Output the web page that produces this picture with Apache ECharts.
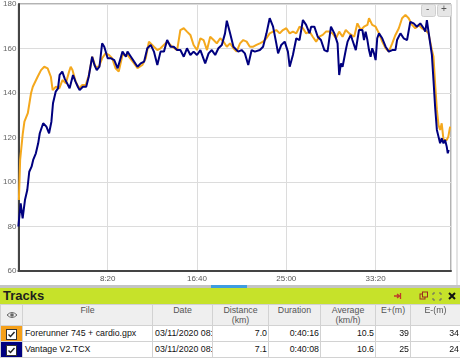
<!DOCTYPE html>
<html><head><meta charset="utf-8">
<script src="https://cdn.jsdelivr.net/npm/echarts/dist/echarts.min.js"></script>
<style>
html,body{margin:0;padding:0;width:460px;height:359px;overflow:hidden;background:#fff;font-family:"Liberation Sans",Arial,sans-serif;}
#chart{position:absolute;left:0;top:0;width:460px;height:285px;}
#vbar{position:absolute;left:456px;top:0;width:2px;height:285px;background:#e4e4e4;}
#hbar{position:absolute;left:0;top:285px;width:460px;height:3px;background:#c4c4c4;}
#hbar i{position:absolute;left:211px;top:0;width:36px;height:3px;background:#3f9de0;}
#head{position:absolute;left:0;top:288px;width:460px;height:16px;background:#c6e22a;}
#head b{position:absolute;left:3px;top:0;font-size:13px;line-height:16px;color:#1e1e1e;}
#head svg{position:absolute;left:0;top:0;}
table{position:absolute;left:0;top:304px;border-collapse:collapse;table-layout:fixed;width:460px;}
td,th{border:1px solid #d2d2d2;padding:0 2px;font-size:8.8px;overflow:hidden;white-space:nowrap;}
th{font-weight:normal;color:#555;background:#efefef;height:20px;vertical-align:top;line-height:10px;text-align:center;padding-top:0;}
td{height:15px;line-height:15px;color:#111;text-align:right;padding:0 1px 0 2px;}
td.l{text-align:left;}
td.c{padding:0;text-align:center;}
td.c svg{display:block;margin:2px auto 0 auto;}
</style>
</head><body>
<div id="chart"></div>
<div id="vbar"></div>
<div id="hbar"><i></i></div>
<div id="head"><b>Tracks</b>
<svg width="460" height="16">
 <path d="M394 8 H399 M397 6 L399.5 8 L397 10 M400.5 5 V11" stroke="#c0392b" stroke-width="1.3" fill="none"/>
 <rect x="420" y="6" width="5" height="5" fill="none" stroke="#9b2d20" stroke-width="1"/>
 <rect x="422.5" y="4" width="5" height="5" fill="#c6e22a" stroke="#9b2d20" stroke-width="1"/>
 <path d="M433 5 h2 M433 5 v2 M441 5 h-2 M441 5 v2 M433 12 h2 M433 12 v-2 M441 12 h-2 M441 12 v-2" stroke="#666" stroke-width="1" fill="none"/>
 <path d="M449 5 L455 11 M455 5 L449 11" stroke="#111" stroke-width="2" fill="none"/>
</svg></div>
<table>
<colgroup><col style="width:22px"><col style="width:130px"><col style="width:60px"><col style="width:56px"><col style="width:52px"><col style="width:55px"><col style="width:35px"><col style="width:50px"></colgroup>
<tr><th style="vertical-align:middle"><svg width="12" height="8" style="display:block;margin:auto"><path d="M1 4 Q6 -1 11 4 Q6 9 1 4 Z" fill="none" stroke="#666" stroke-width="1"/><circle cx="6" cy="4" r="1.8" fill="#666"/></svg></th><th>File</th><th>Date</th><th>Distance<br>(km)</th><th>Duration</th><th>Average<br>(km/h)</th><th>E+(m)</th><th>E-(m)</th></tr>
<tr><td class="c" style="background:#f5a01a"><svg width="11" height="11"><rect x="0.5" y="0.5" width="10" height="10" fill="#fff" stroke="#333"/><path d="M2.5 5.5 L4.5 7.5 L8.5 3" stroke="#222" stroke-width="1.4" fill="none"/></svg></td><td class="l">Forerunner 745 + cardio.gpx</td><td class="l">03/11/2020 08:43</td><td>7.0</td><td>0:40:16</td><td>10.5</td><td>39</td><td>34</td></tr>
<tr><td class="c" style="background:#000080"><svg width="11" height="11"><rect x="0.5" y="0.5" width="10" height="10" fill="#fff" stroke="#333"/><path d="M2.5 5.5 L4.5 7.5 L8.5 3" stroke="#222" stroke-width="1.4" fill="none"/></svg></td><td class="l">Vantage V2.TCX</td><td class="l">03/11/2020 08:43</td><td>7.1</td><td>0:40:08</td><td>10.6</td><td>25</td><td>24</td></tr>
</table>
<script>
// Forerunner 745 + cardio.gpx : elapsed seconds / heart rate
var timeA = [3,10,25,34,53,71,81,90,108,127,145,154,164,182,192,210,229,247,266,284,293,303,321,340,358,377,395,414,432,451,469,488,507,525,544,562,
583,611,648,667,694,713,731,759,778,796,833,861,889,907,926,944,963,981,1000,1019,1037,1056,1074,1093,1111,1130,1148,1167,
1185,1204,1222,1241,1259,1278,1296,1315,1333,1352,1370,1389,1407,1426,1444,1463,1481,1500,1519,1537,1556,1574,1593,1611,1630,1648,1667,1685,1704,1722,1741,1759,1778,
1796,1815,1833,1852,1880,1898,1917,1935,1954,1963,1981,2000,2019,2037,2056,2074,2093,2111,2130,2148,2167,2185,2204,2222,2241,2259,2278,2296,2315,2324,2333,2343,2352,2361,2370,2380,2398,2407,2417];
var hrA = [91.9,109.9,121.9,127.1,130.9,139.9,142.8,143.6,147.3,150.3,151.8,152.6,151.1,147.3,141.3,142.8,142.1,145.8,144.4,149.6,151.8,150.3,145.1,142.1,143.6,143.6,148.1,156.3,151.8,151.8,155.6,157.8,157.1,155.6,151.1,149.6,
157.1,157.1,153.3,151.1,152.6,155.6,163.1,160.8,159.3,160.1,163.1,160.8,159.3,168.3,169.1,167.6,166.1,161.6,159.3,164.6,163.8,159.3,165.3,163.8,162.3,164.6,163.1,160.8,
162.3,160.1,158.6,162.3,163.8,163.1,160.8,160.8,161.6,162.3,163.1,164.6,166.8,167.6,168.3,166.8,168.3,169.1,166.8,167.6,166.8,169.8,169.1,166.8,167.6,165.3,163.1,165.3,166.1,167.6,167.6,166.8,164.6,
167.6,165.3,168.3,166.8,165.3,171.3,168.3,169.8,170.6,173.6,170.6,169.8,166.8,163.1,160.1,158.6,162.3,166.1,169.1,173.6,175.1,173.6,170.6,169.1,170.6,169.1,168.3,166.8,159.3,156.3,144.4,132.4,125.6,123.4,126.4,118.9,118.9,120.4,124.9];
// Vantage V2.TCX
var timeB = [0,13,24,37,50,61,74,83,98,111,120,139,148,157,172,185,194,209,222,231,246,259,268,287,306,320,333,343,361,380,394,413,426,439,454,469,481,500,519,537,
556,583,602,611,630,648,667,685,704,722,741,759,778,796,815,833,852,870,889,907,926,944,963,981,1000,1019,1046,1065,1083,1102,1120,1139,1157,1167,
1185,1204,1231,1250,1268,1287,1306,1324,1352,1370,1389,1407,1426,1444,1454,1472,1491,1509,1519,1537,1556,1574,1593,1611,1630,1639,1657,1676,1694,1713,1731,1750,1769,1787,
1796,1806,1815,1833,1843,1861,1870,1889,1898,1907,1926,1935,1944,1954,1963,1972,1981,1991,2000,2009,2019,2037,2056,2074,2093,2111,2120,2139,2157,2176,2194,2213,2231,2250,2269,2278,2287,2296,2315,2324,2333,2343,2352,2361,2370,2380,2389,2398,2404,2409];
var hrB = [80,90.4,83.7,91.9,96.4,104.6,106.9,109.9,112.9,117.4,121.9,126.4,127.1,124.9,121.9,127.1,135.4,140.6,142.1,148.1,149.6,146.6,145.1,142.1,148.1,145.1,142.8,141.3,142.8,142.8,147.3,156.3,152.6,150.3,151.8,162.3,160.8,155.6,155.6,154.8,
151.1,158.6,156.3,158.6,156.3,154.1,151.8,153.3,154.1,160.1,161.6,158.6,152.6,158.6,158.6,163.8,160.8,160.8,159.3,159.3,156.3,160.1,157.1,158.6,157.1,159.3,153.3,157.8,159.3,157.1,160.1,161.6,166.8,172.5,
167,160.8,158.6,159.3,157.8,152.6,159.3,158.6,159.3,160.8,166.8,173.6,169.8,162.3,157.8,161.6,163.1,158.6,151.8,157.1,164.6,163.8,172.8,170.6,166.8,169.8,169.8,165.3,163.8,159.3,158.6,169.8,166.8,162.3,
148.1,153.3,151.8,159.3,163.1,166.1,163.8,159.3,158.6,168.3,168.3,163.8,167.6,163.8,159.3,156.3,160.1,157.8,154.8,164.6,166.8,164.6,160.8,158.6,159.3,159.3,163.8,166.8,164.6,163.8,172,171.3,169.8,171.3,169.1,167.6,172.8,167.6,157.1,145.8,133.8,123.4,120.4,117.4,119.6,117.4,118.9,115.9,112.9,114.4];
var yTicks = [60, 80, 100, 120, 140, 160, 180];
var xTickStep = 500;

function pairs(t, v) { return t.map(function (x, i) { return [x, v[i]]; }); }
function mmss(s) { var m = Math.floor(s / 60), r = Math.round(s % 60); return m + ':' + (r < 10 ? '0' : '') + r; }

var chart = echarts.init(document.getElementById('chart'), null, { renderer: 'canvas' });
chart.setOption({
  animation: false,
  grid: { left: 15, right: 9, top: 4, bottom: 14, show: true, borderColor: '#666', borderWidth: 1 },
  xAxis: {
    type: 'value', min: 0, max: 2422, interval: xTickStep,
    axisLine: { show: true, lineStyle: { color: '#444', width: 2 } },
    axisTick: { show: false },
    splitLine: { show: true, lineStyle: { color: '#dcdcdc', width: 1 } },
    axisLabel: { formatter: mmss, showMinLabel: false, showMaxLabel: false, fontSize: 8, color: '#555', margin: 4, fontFamily: 'Liberation Sans' }
  },
  yAxis: {
    type: 'value', min: yTicks[0], max: yTicks[yTicks.length - 1], interval: 20,
    axisLine: { show: true, lineStyle: { color: '#444', width: 2 } },
    axisTick: { show: false },
    splitLine: { show: true, lineStyle: { color: '#dcdcdc', width: 1 } },
    axisLabel: { fontSize: 8, color: '#666', margin: 2, fontFamily: 'Liberation Sans' }
  },
  series: [
    { name: 'Forerunner 745 + cardio.gpx', type: 'line', data: pairs(timeA, hrA), showSymbol: false, lineStyle: { color: '#f4a81d', width: 2 }, itemStyle: { color: '#f4a81d' } },
    { name: 'Vantage V2.TCX', type: 'line', data: pairs(timeB, hrB), showSymbol: false, lineStyle: { color: '#00007f', width: 2 }, itemStyle: { color: '#00007f' } }
  ],
  graphic: [
    { type: 'rect', left: 421, top: 4, shape: { width: 14, height: 12, r: 2 }, style: { fill: '#e6e6e6', stroke: '#cfcfcf' }, z: 100 },
    { type: 'rect', left: 437, top: 4, shape: { width: 14, height: 12, r: 2 }, style: { fill: '#e6e6e6', stroke: '#cfcfcf' }, z: 100 },
    { type: 'text', left: 426, top: 4, style: { text: '-', fontSize: 10, fill: '#555', fontFamily: 'Liberation Sans' }, z: 101 },
    { type: 'text', left: 441, top: 4, style: { text: '+', fontSize: 10, fill: '#555', fontFamily: 'Liberation Sans' }, z: 101 }
  ]
});
</script>
</body></html>
